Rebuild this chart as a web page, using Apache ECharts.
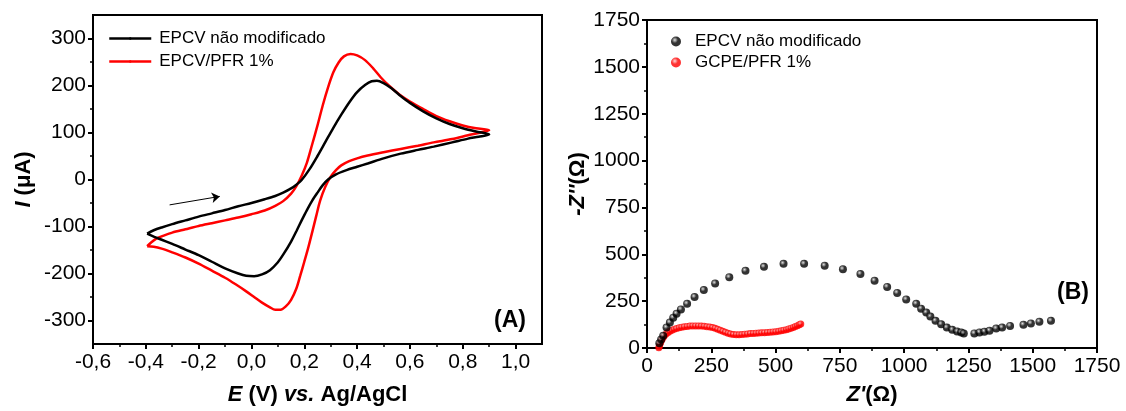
<!DOCTYPE html>
<html>
<head>
<meta charset="utf-8">
<title>CV e EIS</title>
<script src="https://cdn.jsdelivr.net/npm/echarts@6/dist/echarts.min.js"></script>
<style>
  html, body { margin: 0; padding: 0; background: #fff; }
  #chart { width: 1126px; height: 411px; }
</style>
</head>
<body>
<div id="chart"></div>
<script>
// ── Panel A: cyclic voltammograms, [E (V), I (uA)] ──────────────────────
var cvBareForward = [
    [-0.395, -115], [-0.37, -108], [-0.34, -102], [-0.30, -95], [-0.25, -87],
    [-0.20, -79], [-0.15, -72], [-0.10, -65], [-0.05, -57], [0.00, -50],
    [0.05, -42], [0.09, -35], [0.12, -28], [0.15, -19], [0.17, -11],
    [0.19, -1], [0.22, 22], [0.25, 50], [0.28, 80], [0.31, 110],
    [0.34, 138], [0.37, 164], [0.40, 186], [0.43, 201], [0.455, 209],
    [0.475, 210], [0.50, 205], [0.53, 194], [0.56, 180], [0.60, 163],
    [0.65, 145], [0.70, 130], [0.75, 118], [0.80, 109], [0.85, 102], [0.90, 96]
];
var cvBareReverse = [
    [0.90, 96], [0.86, 91], [0.82, 87], [0.76, 79], [0.69, 70], [0.63, 63],
    [0.565, 55], [0.50, 45], [0.44, 34], [0.40, 27], [0.36, 20], [0.32, 11],
    [0.29, 0], [0.27, -12], [0.25, -28], [0.23, -45], [0.21, -65], [0.19, -87],
    [0.17, -110], [0.15, -132], [0.12, -160], [0.10, -176], [0.07, -193],
    [0.04, -202], [0.01, -206], [-0.02, -205], [-0.05, -200], [-0.10, -189],
    [-0.15, -175], [-0.20, -161], [-0.25, -149], [-0.30, -137], [-0.35, -126],
    [-0.395, -115]
];
var cvPfrForward = [
    [-0.395, -142], [-0.38, -134], [-0.36, -126], [-0.33, -119], [-0.30, -113],
    [-0.25, -106], [-0.20, -99], [-0.15, -93], [-0.10, -87], [-0.05, -81],
    [0.00, -74], [0.05, -66], [0.09, -56], [0.12, -46], [0.15, -30],
    [0.17, -14], [0.19, 8], [0.21, 36], [0.23, 75], [0.25, 115], [0.27, 158],
    [0.29, 196], [0.31, 228], [0.33, 249], [0.35, 262], [0.375, 267],
    [0.40, 264], [0.43, 254], [0.46, 237], [0.49, 217], [0.52, 200],
    [0.56, 181], [0.60, 166], [0.65, 150], [0.70, 135], [0.75, 124],
    [0.80, 115], [0.85, 109], [0.90, 105]
];
var cvPfrReverse = [
    [0.90, 105], [0.86, 99], [0.82, 94], [0.76, 86], [0.69, 79], [0.63, 72],
    [0.565, 65], [0.50, 58], [0.44, 51], [0.40, 45], [0.37, 39], [0.34, 30],
    [0.32, 20], [0.30, 6], [0.28, -15], [0.26, -45], [0.245, -78], [0.23, -112],
    [0.215, -145], [0.20, -175], [0.185, -204], [0.17, -232], [0.15, -256],
    [0.13, -270], [0.11, -277], [0.09, -277], [0.07, -272], [0.04, -262],
    [0.01, -250], [-0.02, -238], [-0.06, -223], [-0.10, -209], [-0.15, -194],
    [-0.20, -179], [-0.25, -166], [-0.30, -155], [-0.34, -147], [-0.37, -143],
    [-0.395, -142]
];
// scan direction arrow (start, end)
var scanArrow = [[-0.31, -54], [-0.12, -36]];

var cvTicksX      = [-0.6, -0.4, -0.2, 0.0, 0.2, 0.4, 0.6, 0.8, 1.0];
var cvMinorTicksX = [-0.5, -0.3, -0.1, 0.1, 0.3, 0.5, 0.7, 0.9];
var cvTicksY      = [-300, -200, -100, 0, 100, 200, 300];
var cvMinorTicksY = [-250, -150, -50, 50, 150, 250];

// ── Panel B: Nyquist plots, [Z' (ohm), -Z'' (ohm)] ───────────────────────
var eisBare = [
    [48, 25], [55, 45], [63, 65], [76, 109], [89, 136], [102, 162], [115, 183],
    [132, 206], [156, 236], [185, 272], [221, 309], [265, 344], [320, 377],
    [383, 412], [455, 433], [531, 449], [611, 449], [691, 439], [762, 420],
    [830, 395], [885, 359], [934, 326], [973, 294], [1008, 259], [1047, 236],
    [1066, 210], [1086, 189], [1102, 168], [1122, 145], [1144, 127],
    [1166, 109], [1187, 97], [1206, 88], [1222, 83], [1232, 78], [1273, 78],
    [1293, 83], [1312, 87], [1332, 92], [1358, 104], [1381, 109], [1412, 118],
    [1464, 124], [1493, 131], [1526, 140], [1571, 145]
];
var eisPfr = [
    [46, 2], [48, 10], [50, 20], [53, 30], [56, 40], [60, 50], [64, 59],
    [69, 68], [75, 76], [82, 83], [89, 89], [97, 95], [106, 100], [115, 104],
    [125, 108], [135, 111], [145, 113], [156, 115], [167, 117], [178, 118],
    [189, 118], [200, 118], [211, 117], [222, 116], [233, 114], [244, 112],
    [255, 109], [265, 105], [275, 100], [285, 95], [295, 89], [305, 84],
    [315, 79], [325, 75], [336, 72], [347, 71], [358, 71], [369, 72],
    [380, 74], [391, 75], [402, 77], [413, 78], [424, 79], [435, 80],
    [446, 81], [457, 82], [468, 83], [479, 84], [490, 86], [501, 87],
    [512, 89], [522, 92], [532, 95], [542, 98], [551, 102], [560, 106],
    [569, 110], [577, 115], [585, 119], [592, 124], [598, 128]
];

var cvNames  = ['EPCV não modificado', 'EPCV/PFR 1%'];
var eisNames = ['EPCV não modificado (EIS)', 'GCPE/PFR 1%'];

var FONT = '"Liberation Sans", Arial, sans-serif';

function commaDecimal(v) { return v.toFixed(1).replace('.', ','); }
function plainNumber(v) { return String(v); }

function ball(light, dark) {
    return {
        type: 'radial', x: 0.38, y: 0.35, r: 0.7,
        colorStops: [{ offset: 0, color: light }, { offset: 0.45, color: dark }, { offset: 1, color: dark }]
    };
}

function frameAxis(extra) {
    var base = {
        type: 'value',
        axisLine: { show: true, onZero: false, lineStyle: { color: '#000', width: 2 } },
        axisTick: { show: true, length: 5, lineStyle: { color: '#000', width: 2 } },
        axisLabel: { color: '#000', fontSize: 21, fontFamily: FONT },
        splitLine: { show: false },
        nameTextStyle: {
            color: '#000', fontSize: 22, fontFamily: FONT, fontWeight: 'bold',
            rich: {
                i: { fontStyle: 'italic', fontWeight: 'bold', fontSize: 22, fontFamily: FONT, color: '#000' },
                b: { fontWeight: 'bold', fontSize: 22, fontFamily: FONT, color: '#000' }
            }
        }
    };
    return Object.assign(base, extra);
}

// extra axis on the same grid that only draws the short in-between ticks
function minorAxis(extra) {
    return Object.assign({
        type: 'value',
        axisLine: { show: false, onZero: false },
        axisLabel: { show: false },
        splitLine: { show: false },
        silent: true
    }, extra);
}

var chart = echarts.init(document.getElementById('chart'));

chart.setOption({
    animation: false,
    backgroundColor: '#fff',
    grid: [
        { left: 93, top: 15, width: 449, height: 329, show: true, borderColor: '#000', borderWidth: 2 },
        { left: 647, top: 20, width: 450, height: 331, show: true, borderColor: '#000', borderWidth: 2 }
    ],
    xAxis: [
        frameAxis({
            gridIndex: 0, min: -0.6, max: 1.1, interval: 0.1, position: 'bottom',
            axisTick: { show: true, length: 5, customValues: cvTicksX, lineStyle: { color: '#000', width: 2 } },
            axisLabel: { color: '#000', fontSize: 21, fontFamily: FONT, margin: 8,
                         customValues: cvTicksX, formatter: commaDecimal },
            name: '{i|E} {b|(V)} {i|vs.} {b|Ag/AgCl}',
            nameLocation: 'middle', nameGap: 40
        }),
        minorAxis({
            gridIndex: 0, min: -0.6, max: 1.1, position: 'bottom',
            axisTick: { show: true, length: 3, customValues: cvMinorTicksX, lineStyle: { color: '#000', width: 1.5 } }
        }),
        frameAxis({
            gridIndex: 1, min: 0, max: 1750, interval: 250, position: 'bottom',
            axisLabel: { color: '#000', fontSize: 21, fontFamily: FONT, margin: 8, formatter: plainNumber },
            minorTick: { show: true, splitNumber: 2, length: 3, lineStyle: { color: '#000', width: 1.5 } },
            name: "{i|Z'}{b|(Ω)}",
            nameLocation: 'middle', nameGap: 36
        })
    ],
    yAxis: [
        frameAxis({
            gridIndex: 0, min: -350, max: 350, interval: 50, position: 'left',
            axisTick: { show: true, length: 5, customValues: cvTicksY, lineStyle: { color: '#000', width: 2 } },
            axisLabel: { color: '#000', fontSize: 21, fontFamily: FONT, margin: 7, customValues: cvTicksY },
            name: '{i|I} {b|(μA)}',
            nameLocation: 'middle', nameGap: 58
        }),
        minorAxis({
            gridIndex: 0, min: -350, max: 350, position: 'left',
            axisTick: { show: true, length: 3, customValues: cvMinorTicksY, lineStyle: { color: '#000', width: 1.5 } }
        }),
        frameAxis({
            gridIndex: 1, min: 0, max: 1750, interval: 250, position: 'left',
            axisLabel: { color: '#000', fontSize: 21, fontFamily: FONT, margin: 7, formatter: plainNumber },
            minorTick: { show: true, splitNumber: 2, length: 3, lineStyle: { color: '#000', width: 1.5 } },
            name: "{i|-Z''}{b|(Ω)}",
            nameLocation: 'middle', nameGap: 58
        })
    ],
    legend: [
        {
            // itemHeight kept tiny so the line legend's centre dot hides inside the stroke
            data: cvNames, orient: 'vertical', left: 103, top: 25,
            itemWidth: 42, itemHeight: 3, itemGap: 6,
            lineStyle: { width: 2.5 },
            textStyle: { color: '#000', fontSize: 17, fontFamily: FONT, padding: [0, 0, 0, 3] }
        },
        {
            data: eisNames, orient: 'vertical', left: 666, top: 28,
            itemWidth: 10, itemHeight: 10, itemGap: 4,
            formatter: function (n) { return n.replace(' (EIS)', ''); },
            textStyle: { color: '#000', fontSize: 17, fontFamily: FONT, padding: [0, 0, 0, 9] }
        }
    ],
    graphic: [
        { type: 'text', left: 494, top: 309, style: { text: '(A)', font: 'bold 23px ' + FONT, fill: '#000' } },
        { type: 'text', left: 1057, top: 281, style: { text: '(B)', font: 'bold 23px ' + FONT, fill: '#000' } }
    ],
    series: [
        {
            name: cvNames[0], type: 'line', xAxisIndex: 0, yAxisIndex: 0,
            data: cvBareForward.concat(cvBareReverse.slice(1)),
            symbol: 'none', smooth: 0.3, z: 3,
            lineStyle: { color: '#000', width: 2.5 }, itemStyle: { color: '#000' },
            markLine: {
                silent: true, symbol: ['none', 'arrow'], symbolSize: 8,
                label: { show: false },
                lineStyle: { color: '#000', width: 1, type: 'solid' },
                data: [[{ coord: scanArrow[0] }, { coord: scanArrow[1] }]]
            }
        },
        {
            name: cvNames[1], type: 'line', xAxisIndex: 0, yAxisIndex: 0,
            data: cvPfrForward.concat(cvPfrReverse.slice(1)),
            symbol: 'none', smooth: 0.3, z: 2,
            lineStyle: { color: '#ff0000', width: 2.5 }, itemStyle: { color: '#ff0000' }
        },
        {
            name: eisNames[0], type: 'scatter', xAxisIndex: 2, yAxisIndex: 2,
            data: eisBare, symbolSize: 8, z: 3,
            itemStyle: { color: ball('#d8d8d8', '#000000') }
        },
        {
            name: eisNames[1], type: 'scatter', xAxisIndex: 2, yAxisIndex: 2,
            data: eisPfr, symbolSize: 7, z: 2,
            itemStyle: { color: ball('#ffd0d0', '#ff0000') }
        }
    ]
});
</script>
</body>
</html>
